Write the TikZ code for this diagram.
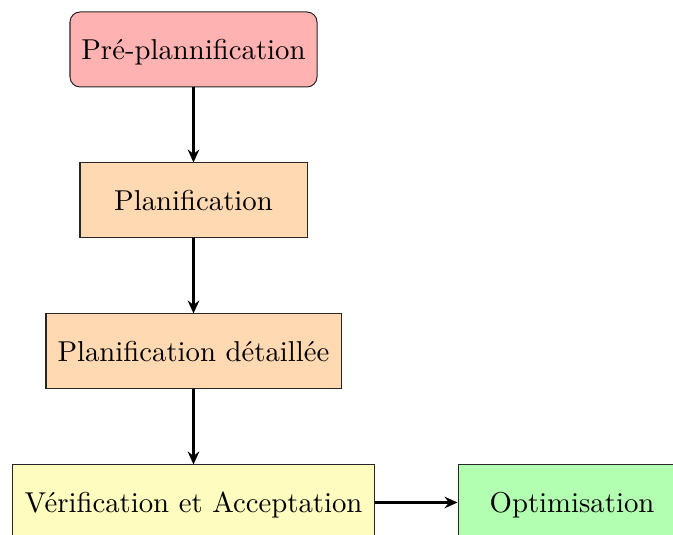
\documentclass[tikz,border=0pt]{standalone}
\usetikzlibrary{arrows.meta}
% one drawing unit = 0.3478pt
\newcommand{\unitlen}{0.3478pt}
\tikzset{
  stage/.style={draw=black!85, line width=0.35pt, inner sep=0pt, minimum height=75*\unitlen, text depth=0pt},
  flow/.style={thick, -{Stealth[length=4.5pt,width=4pt,inset=1.5pt]}}
}
\begin{document}
\begin{tikzpicture}[x=\unitlen, y=-\unitlen]
  \useasboundingbox (0,0) rectangle (673,535);
  \node[stage, rounded corners=3.5pt, fill=red!30, minimum width=247*\unitlen] (pre) at (193.5,49.5) {Pré-plannification};
  \node[stage, fill=orange!30, minimum width=227*\unitlen] (plan) at (193.5,200.5) {Planification};
  \node[stage, fill=orange!30, minimum width=295*\unitlen] (det) at (193.5,351.5) {Planification détaillée};
  \node[stage, fill=yellow!25, minimum width=362*\unitlen] (ver) at (193.5,502.5) {Vérification et Acceptation};
  \node[stage, fill=green!30, minimum width=228*\unitlen] (opt) at (572,502.5) {Optimisation};
  \draw[flow] (pre) -- (plan);
  \draw[flow] (plan) -- (det);
  \draw[flow] (det) -- (ver);
  \draw[flow] (ver) -- (opt);
\end{tikzpicture}
\end{document}
